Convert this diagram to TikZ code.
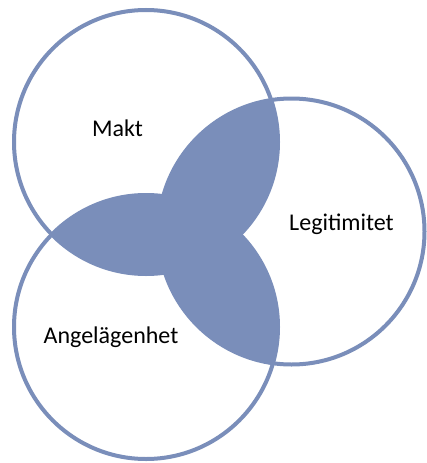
\documentclass[tikz,border=0pt]{standalone}
\usepackage{fontspec}
\setmainfont{Carlito}
\definecolor{vennblue}{HTML}{7A8EBA}
\begin{document}
\begin{tikzpicture}[x=1pt,y=-1pt,
  ring/.style={draw=vennblue,line width=4pt},
  label/.style={font=\fontsize{24}{28}\selectfont,text=black,inner sep=0pt}]
\useasboundingbox (0,0) rectangle (426,463);
\fill[white] (0,0) rectangle (426,463);
% circle centres and radii
\coordinate (cm) at (146,142);
\coordinate (cl) at (291.5,231.5);
\coordinate (ca) at (146,327);
% pairwise overlaps
\begin{scope}
  \clip (cm) circle (132);
  \fill[vennblue] (cl) circle (133);
  \fill[vennblue] (ca) circle (132);
\end{scope}
\begin{scope}
  \clip (cl) circle (133);
  \fill[vennblue] (ca) circle (132);
\end{scope}
% outlines
\draw[ring] (cm) circle (132);
\draw[ring] (cl) circle (133);
\draw[ring] (ca) circle (132);
% labels
\node[label] (makt) at (117.5,128) {Makt};
\node[label] (legit) at (341.5,224) {Legitimitet};
\node[label] (angel) at (111,337) {Angelägenhet};
\end{tikzpicture}
\end{document}
